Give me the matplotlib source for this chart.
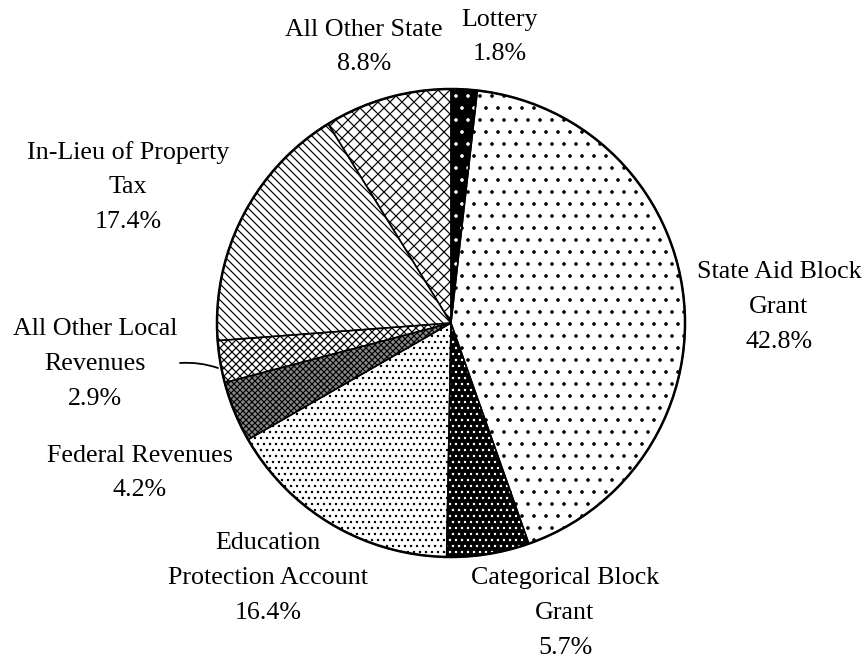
import matplotlib.pyplot as plt
from matplotlib.patches import Circle

# revenue shares, clockwise from the top
labels = ['Lottery', 'State Aid Block\nGrant', 'Categorical Block\nGrant',
          'Education\nProtection Account', 'Federal Revenues',
          'All Other Local\nRevenues', 'In-Lieu of Property\nTax', 'All Other State']
shares = [1.8, 42.8, 5.7, 16.4, 4.2, 2.9, 17.4, 8.8]

# hatch styles: (face, hatch colour, hatch)
styles = [
    ('black', 'white', '.'),
    ('white', 'black', '.'),
    ('black', 'white', '..'),
    ('white', 'black', '..'),
    ('#8a8a8a', 'black', 'xxxx'),
    ('white', 'black', 'xxx'),
    ('white', 'black', '\\\\\\'),
    ('white', 'black', 'xx'),
]

# label anchor points in pixel space (x, y from top)
label_pos = [(500, 37), (779, 307), (565, 613), (268, 578),
             (140, 473), (95, 364), (128, 187), (364, 47)]

W, H = 868, 661
DPI = 72
plt.rcParams['hatch.linewidth'] = 1.2

fig = plt.figure(figsize=(W / DPI, H / DPI), dpi=DPI)
ax = fig.add_axes([0, 0, 1, 1])

cx, cy, r = 451, H - 323, 234
wedges, _ = ax.pie(shares, startangle=90, counterclock=False, center=(cx, cy),
                   radius=r, frame=True)
for w, (fc, hc, h) in zip(wedges, styles):
    w.set_facecolor(fc)
    w.set_edgecolor(hc)
    w.set_hatch(h)
    w.set_linewidth(0)

# outlines on top
outl, _ = ax.pie(shares, startangle=90, counterclock=False, center=(cx, cy),
                 radius=r, frame=True,
                 wedgeprops=dict(fill=False, edgecolor='black', linewidth=1.5))
ax.add_patch(Circle((cx, cy), r, fill=False, edgecolor='black', linewidth=2.5))

for lab, v, (x, y) in zip(labels, shares, label_pos):
    ax.text(x, H - y, f'{lab}\n{v:.1f}%', ha='center', va='center',
            fontsize=26, family='Liberation Serif', linespacing=1.75)

# leader line for All Other Local Revenues
ax.annotate('', xy=(218, H - 368), xytext=(180, H - 363),
            arrowprops=dict(arrowstyle='-', color='black', lw=1.8,
                            connectionstyle='arc3,rad=-0.1',
                            shrinkA=0, shrinkB=0))

ax.set_xlim(0, W)
ax.set_ylim(0, H)
ax.set_axis_off()
fig.savefig('out.png', dpi=DPI)
